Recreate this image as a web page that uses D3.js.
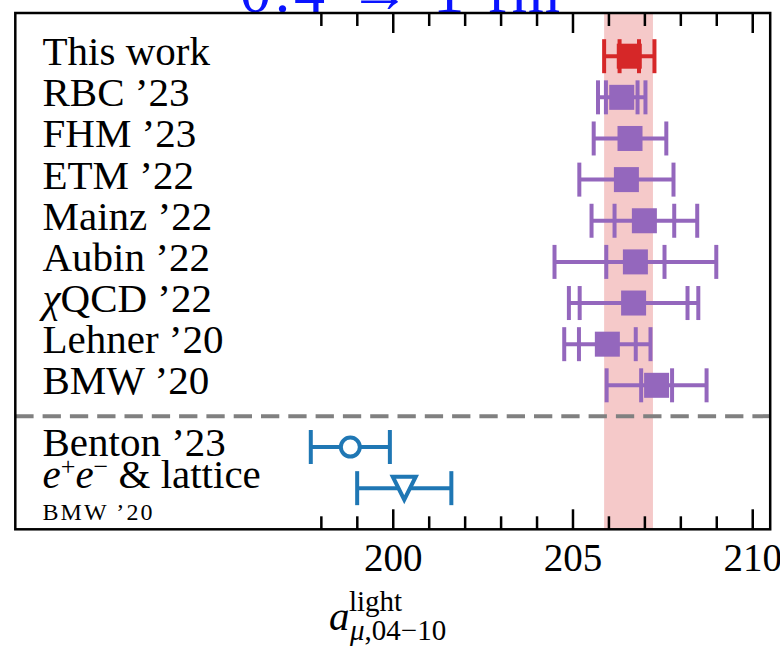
<!DOCTYPE html>
<html><head><meta charset="utf-8">
<script src="https://cdn.jsdelivr.net/npm/d3@7"></script>
<style>body{margin:0;background:#fff}svg{display:block}</style>
</head><body>
<svg id="chart" width="780" height="647"></svg>
<script>
// ---- data ----
const latticeLabels = ["This work","RBC ’23","FHM ’23","ETM ’22","Mainz ’22","Aubin ’22","χQCD ’22","Lehner ’20","BMW ’20"];
const latticeCenters = [206.58, 206.37, 206.60, 206.50, 207.00, 206.75, 206.70, 205.97, 207.34];
const latticeStat = [0.27, 0.44, null, null, 0.83, 0.81, 1.50, 0.79, 0.43];
const latticeTotal = [0.70, 0.66, 1.01, 1.31, 1.47, 2.25, 1.80, 1.20, 1.39];
const otherLabels = ["Benton ’23", "e+e− & lattice"];
const otherSubLabels = [null, "BMW ’20"];
const otherCenters = [198.82, 200.32];
const otherTotal = [1.10, 1.31];
const otherMarkers = ["circle", "triangle-down"];
const majorTicks = [200, 205, 210];
const minorTicks = [198, 199, 201, 202, 203, 204, 206, 207, 208, 209];
const titleText = "0.4 → 1 fm";

// ---- setup ----
const svg = d3.select("#chart");
const L = 15.3, R = 770.2, T = 13, B = 529.3;
const x = d3.scaleLinear().domain([189.5, 210.5]).range([L, R]);
const y = d3.scaleLinear().domain([-1.05, 11.5]).range([T, B]);
const purple = "#9467bd", red = "#d62728", blue = "#1f77b4";
const FONT = '"Liberation Serif"';
function txt(parent) {
  return parent.append("text").style("font-family", FONT).attr("fill", "#000");
}

// title (mostly clipped, as in reference)
txt(svg).attr("x", 400).attr("y", 12).attr("text-anchor", "middle")
  .attr("font-size", 62).attr("fill", "#0a14ff")
  .attr("textLength", 320).attr("lengthAdjust", "spacing").text(titleText);

// band from "This work"
const c0 = latticeCenters[0], e0 = latticeTotal[0];
svg.append("rect").attr("x", x(c0 - e0)).attr("width", x(c0 + e0) - x(c0 - e0) - 1.5)
  .attr("y", T).attr("height", B - T).attr("fill", red).attr("fill-opacity", 0.25);

// separator
svg.append("line").attr("x1", L).attr("x2", R).attr("y1", y(8.75)).attr("y2", y(8.75))
  .attr("stroke", "#808080").attr("stroke-width", 4).attr("stroke-dasharray", "18.3 9");

const capH = 17, lw = 4;
function errbar(g, yy, c, tot, stat, color) {
  g.append("line").attr("x1", x(c - tot)).attr("x2", x(c + tot)).attr("y1", yy).attr("y2", yy)
    .attr("stroke", color).attr("stroke-width", lw);
  const caps = [c - tot, c + tot];
  if (stat != null) caps.push(c - stat, c + stat);
  caps.forEach(v => g.append("line").attr("x1", x(v)).attr("x2", x(v))
    .attr("y1", yy - capH).attr("y2", yy + capH).attr("stroke", color).attr("stroke-width", lw));
}

// lattice points
const gL = svg.append("g");
latticeLabels.forEach((lab, i) => {
  const color = i === 0 ? red : purple;
  const yy = y(i);
  errbar(gL, yy, latticeCenters[i], latticeTotal[i], latticeStat[i], color);
  const s = 25;
  gL.append("rect").attr("x", x(latticeCenters[i]) - s / 2).attr("y", yy - s / 2)
    .attr("width", s).attr("height", s).attr("fill", color);
  const t = txt(svg).attr("x", 42.5).attr("y", yy + 9).attr("font-size", 41);
  if (lab.startsWith("χ")) {
    t.append("tspan").attr("font-style", "italic").text("χ");
    t.append("tspan").text(lab.slice(1));
  } else t.text(lab);
});

// other determinations
const gO = svg.append("g");
otherLabels.forEach((lab, i) => {
  const yy = y(9.5 + i);
  const c = otherCenters[i];
  errbar(gO, yy, c, otherTotal[i], null, blue);
  if (otherMarkers[i] === "circle") {
    gO.append("circle").attr("cx", x(c)).attr("cy", yy).attr("r", 9.5)
      .attr("fill", "#fff").attr("stroke", blue).attr("stroke-width", 4);
  } else {
    const r = 11.5, cx = x(c);
    gO.append("path").attr("d", `M${cx - r},${yy - r}L${cx + r},${yy - r}L${cx},${yy + r}Z`)
      .attr("fill", "#fff").attr("stroke", blue).attr("stroke-width", 4).attr("stroke-linejoin", "miter");
  }
  const hasSub = otherSubLabels[i] != null;
  const t = txt(svg).attr("x", 42.5).attr("y", yy + (hasSub ? 0 : 9)).attr("font-size", 41);
  if (lab.startsWith("e+e−")) {
    t.append("tspan").attr("font-style", "italic").text("e");
    t.append("tspan").attr("font-size", 26).attr("dy", -13).text("+");
    t.append("tspan").attr("font-style", "italic").attr("dy", 13).text("e");
    t.append("tspan").attr("font-size", 26).attr("dy", -13).text("−");
    t.append("tspan").attr("dy", 13).text(lab.slice(4));
  } else t.text(lab);
  if (hasSub) {
    txt(svg).attr("x", 42.5).attr("y", yy + 32).attr("font-size", 24)
      .attr("textLength", 110).attr("lengthAdjust", "spacing").text(otherSubLabels[i]);
  }
});

// frame
svg.append("rect").attr("x", L).attr("y", T).attr("width", R - L).attr("height", B - T)
  .attr("fill", "none").attr("stroke", "#000").attr("stroke-width", 2.5);

// axes
function styleAxis(g) {
  g.select(".domain").remove();
  g.selectAll(".tick line").attr("stroke", "#000").attr("stroke-width", 2.5);
}
svg.append("g").attr("transform", `translate(0,${B})`)
  .call(d3.axisBottom(x).tickValues(minorTicks).tickSize(-13).tickFormat("")).call(styleAxis);
svg.append("g").attr("transform", `translate(0,${T})`)
  .call(d3.axisTop(x).tickValues(minorTicks).tickSize(-13).tickFormat("")).call(styleAxis);
svg.append("g").attr("transform", `translate(0,${T})`)
  .call(d3.axisTop(x).tickValues(majorTicks).tickSize(-20).tickFormat("")).call(styleAxis);
const bx = svg.append("g").attr("transform", `translate(0,${B})`)
  .call(d3.axisBottom(x).tickValues(majorTicks).tickSize(-20).tickFormat(d3.format("d"))).call(styleAxis);
bx.selectAll(".tick text").style("font-family", FONT).attr("y", 41.5).attr("dy", 0)
  .attr("font-size", 39).attr("fill", "#000");

// x-axis label
txt(svg).attr("x", 329).attr("y", 630).attr("font-size", 41).attr("font-style", "italic").text("a");
txt(svg).attr("x", 349).attr("y", 611).attr("font-size", 29).text("light");
const sub = txt(svg).attr("x", 350).attr("y", 640).attr("font-size", 29);
sub.append("tspan").attr("font-style", "italic").text("μ");
sub.append("tspan").text(",04−10");
</script>
</body></html>
